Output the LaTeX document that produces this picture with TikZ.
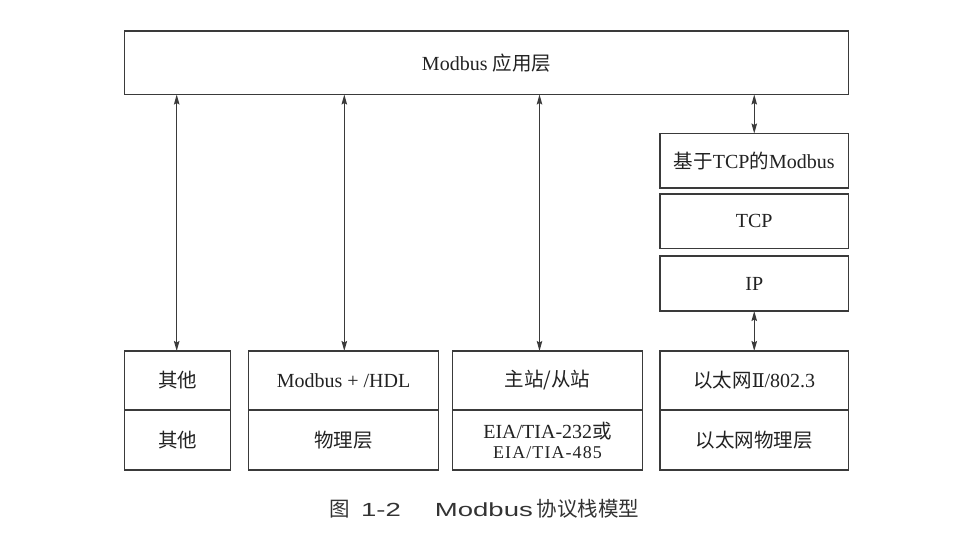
\documentclass[tikz,border=0pt]{standalone}
\usepackage{fontspec}
\setmainfont{Liberation Serif}
\newfontfamily\cjk{Noto Sans CJK SC}
\newfontfamily\romnum{DejaVu Serif}
\newfontfamily\capsans[FakeStretch=1.45]{Liberation Sans}
\usetikzlibrary{arrows.meta}
\definecolor{ln}{HTML}{3A3A3A}
\definecolor{tx}{HTML}{222222}
\definecolor{captx}{HTML}{333333}
\begin{document}
\begin{tikzpicture}[x=1pt,y=-1pt,
  box/.style={draw=ln, line width=1.4pt, inner sep=0pt, outer sep=0pt, text=tx,
              font=\fontsize{20}{22}\selectfont, align=center},
  tip/.tip={Stealth[length=10pt,width=5.5pt,inset=1.5pt]},
  dbl/.style={draw=ln, line width=1.1pt, tip-tip}]
\useasboundingbox[fill=white] (0,0) rectangle (961,558);

% top application layer
\node[box, minimum width=724pt, minimum height=63.5pt] (app) at (486.5,62.75) {Modbus\ {\cjk\fontsize{19.5}{22}\selectfont 应用层}};

% right column
\node[box, minimum width=188.5pt, minimum height=54.5pt] (mtcp) at (754.25,160.75) {{\cjk\fontsize{19.5}{22}\selectfont 基于}TCP{\cjk\fontsize{19.5}{22}\selectfont 的}Modbus};
\node[box, minimum width=188.5pt, minimum height=54.5pt] (tcp) at (754.25,221.25) {TCP};
\node[box, minimum width=188.5pt, minimum height=55pt] (ip) at (754.25,283.5) {IP};

% bottom boxes: upper halves
\node[box, minimum width=106pt, minimum height=59pt] (b1u) at (177.5,380.5) {{\cjk\fontsize{19.5}{22}\selectfont 其他}};
\node[box, minimum width=190pt, minimum height=59pt] (b2u) at (343.5,380.5) {Modbus + /HDL};
\node[box, minimum width=190pt, minimum height=59pt] (b3u) at (547.5,380.5) {{\cjk\fontsize{19.5}{22}\selectfont 主站/从站}};
\node[box, minimum width=188.5pt, minimum height=59pt] (b4u) at (754.25,380.5) {{\cjk\fontsize{19.5}{22}\selectfont 以太网}{\romnum\fontsize{19}{22}\selectfont Ⅱ}/802.3};

% bottom boxes: lower halves
\node[box, minimum width=106pt, minimum height=60pt] (b1l) at (177.5,440) {{\cjk\fontsize{19.5}{22}\selectfont 其他}};
\node[box, minimum width=190pt, minimum height=60pt] (b2l) at (343.5,440) {{\cjk\fontsize{19.5}{22}\selectfont 物理层}};
\node[box, minimum width=190pt, minimum height=60pt] (b3l) at (547.5,440) {EIA/TIA-232{\cjk\fontsize{19.5}{22}\selectfont 或}\\[-2pt]{\fontsize{18}{20}\selectfont\addfontfeature{LetterSpace=6}EIA/TIA-485}};
\node[box, minimum width=188.5pt, minimum height=60pt] (b4l) at (754.25,440) {{\cjk\fontsize{19.5}{22}\selectfont 以太网物理层}};

% arrow positions
\coordinate (x1) at (176.7,0);
\coordinate (x2) at (344.3,0);
\coordinate (x3) at (539.5,0);
\coordinate (x4) at (754.25,0);

\draw[dbl] (app.south -| x1) -- (b1u.north -| x1);
\draw[dbl] (app.south -| x2) -- (b2u.north -| x2);
\draw[dbl] (app.south -| x3) -- (b3u.north -| x3);
\draw[dbl] (app.south -| x4) -- (mtcp.north -| x4);
\draw[dbl] (ip.south -| x4) -- (b4u.north -| x4);

% caption
\node[text=captx, inner sep=0pt] (cap) at (484.5,509) {{\cjk\fontsize{20.5}{24}\selectfont 图}\hspace{11pt}{\capsans\fontsize{19}{24}\selectfont 1-2}\hspace{34pt}{\capsans\fontsize{19}{24}\selectfont Modbus}\hspace{4pt}{\cjk\fontsize{20.5}{24}\selectfont 协议栈模型}};
\end{tikzpicture}
\end{document}
